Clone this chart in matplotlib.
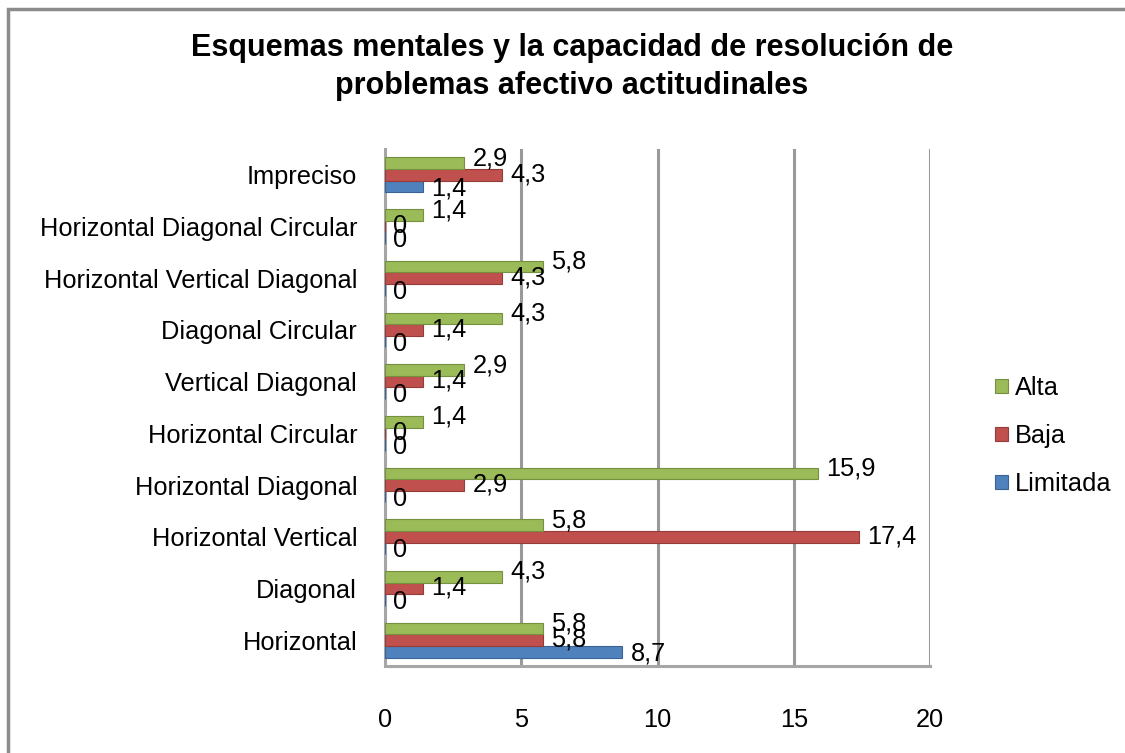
import matplotlib
matplotlib.use("Agg")
import matplotlib.pyplot as plt
from matplotlib.patches import Rectangle
import numpy as np

plt.rcParams['font.family'] = ['Liberation Sans', 'DejaVu Sans']

categories = ["Horizontal", "Diagonal", "Horizontal Vertical", "Horizontal Diagonal",
              "Horizontal Circular", "Vertical Diagonal", "Diagonal Circular",
              "Horizontal Vertical Diagonal", "Horizontal Diagonal Circular", "Impreciso"]
alta = [5.8, 4.3, 5.8, 15.9, 1.4, 2.9, 4.3, 5.8, 1.4, 2.9]
baja = [5.8, 1.4, 17.4, 2.9, 0, 1.4, 1.4, 4.3, 0, 4.3]
limitada = [8.7, 0, 0, 0, 0, 0, 0, 0, 0, 1.4]
x_ticks = [0, 5, 10, 15, 20]

fig = plt.figure(figsize=(11.25, 7.53), dpi=100)
ax = fig.add_axes([385 / 1125, 1 - 666 / 753, 545 / 1125, 517 / 753])

# outer chart frame
fig.patches.append(Rectangle((8 / 1125, -0.01), 1.1, 1 - 9 / 753 + 0.01,
                             transform=fig.transFigure, fill=False,
                             edgecolor='#8c8c8c', linewidth=2.5))

y = np.arange(len(categories))
h = 0.225
# values, bar offset, fill, edge, name, label lift (points)
series = [(limitada, -h, '#4F81BD', '#3a6394', 'Limitada', -1.5),
          (baja, 0, '#C0504D', '#943c3a', 'Baja', 0.5),
          (alta, h, '#9BBB59', '#76903f', 'Alta', 3.5)]

for vals, off, color, edge, name, lift in series:
    ax.barh(y + off, vals, height=h, color=color, edgecolor=edge,
            linewidth=0.8, label=name, zorder=3)
    for yi, v in zip(y + off, vals):
        ax.annotate(f"{v:g}".replace('.', ','), (v, yi), xytext=(6, lift),
                    textcoords='offset points', ha='left', va='center',
                    fontsize=18.3, zorder=4)

ax.set_xlim(0, 20)
ax.set_ylim(-0.5, len(categories) - 0.5)
ax.set_xticks(x_ticks)
ax.set_xticklabels([str(t) for t in x_ticks])
ax.set_yticks(y)
ax.set_yticklabels(categories)
ax.tick_params(axis='both', length=0, labelsize=18.3)
ax.tick_params(axis='x', pad=30)
ax.tick_params(axis='y', pad=20)

for t in x_ticks[1:]:
    ax.axvline(t, color='#999999', linewidth=2.2, zorder=1)
for side in ['top', 'right']:
    ax.spines[side].set_visible(False)
ax.spines['left'].set_color('#a6a6a6')
ax.spines['left'].set_linewidth(2.2)
ax.spines['bottom'].set_color('#a6a6a6')
ax.spines['bottom'].set_linewidth(2.2)

fig.text(572 / 1125, 1 - 67 / 753,
         "Esquemas mentales y la capacidad de resolución de\nproblemas afectivo actitudinales",
         ha='center', va='center', fontsize=22, fontweight='bold', linespacing=1.35)

handles, labels = ax.get_legend_handles_labels()
fig.legend(handles[::-1], labels[::-1], loc='center left',
           bbox_to_anchor=(972 / 1125, 1 - 436 / 753), frameon=False,
           fontsize=18.3, handlelength=0.5, handleheight=0.5,
           handletextpad=0.3, labelspacing=0.95)

fig.savefig("out.png", dpi=100)
